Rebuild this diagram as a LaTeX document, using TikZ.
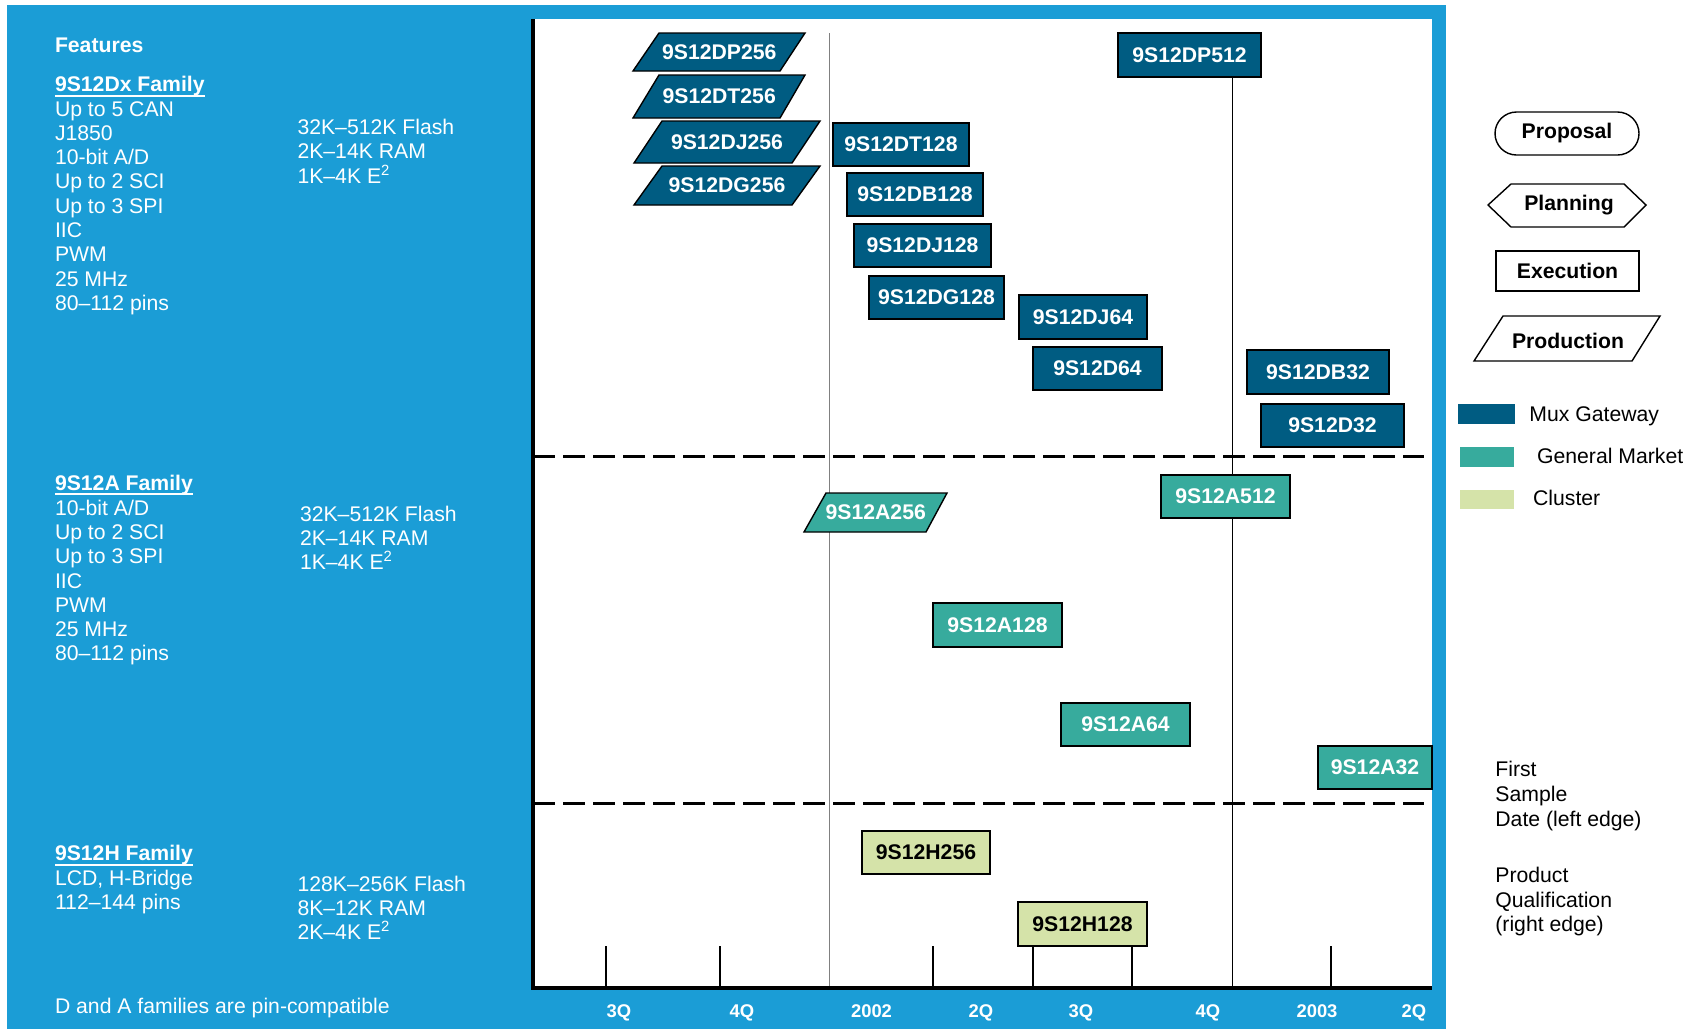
\documentclass[tikz,border=0pt]{standalone}
\usepackage{fontspec}
\setmainfont{Liberation Sans}
\definecolor{bgblue}{RGB}{27,157,214}
\definecolor{mux}{RGB}{0,92,130}
\definecolor{gm}{RGB}{55,171,157}
\definecolor{cl}{RGB}{213,227,169}
\newcommand\txfont{\fontsize{10.6}{12}\selectfont}
\newcommand\bxfont{\fontsize{10.6}{12}\selectfont\bfseries}
% rectangle box: name, x1, y1, x2, y2, style, text
\newcommand\rbox[7]{\node[#6, minimum width={(#4-#2)*0.5pt}, minimum height={(#5-#3)*0.5pt}] (#1) at ({(#2+#4)/2},{(#3+#5)/2}) {#7};}
% parallelogram box: name, TLx, TRx, BLx, BRx, ytop, ybot, fill colour, text
\newcommand\pbox[9]{\filldraw[pshape, fill=#8] (#2,#6) -- (#3,#6) -- (#5,#7) -- (#4,#7) -- cycle;
  \node[ptext] (#1) at ({(#2+#3+#4+#5)/4},{(#6+#7)/2}) {#9};}
\begin{document}
\begin{tikzpicture}[x=0.5pt,y=-0.5pt,
  txt/.style={anchor=base west, inner sep=0, outer sep=0, text=white, font=\txfont},
  btxt/.style={txt, font=\bxfont},
  box/.style={draw=black, line width=0.7pt, inner sep=0, outer sep=0, font=\bxfont, text=white},
  muxbox/.style={box, fill=mux},
  gmbox/.style={box, fill=gm},
  clbox/.style={box, fill=cl, text=black},
  pshape/.style={draw=black, line width=0.7pt},
  ptext/.style={inner sep=0, font=\bxfont, text=white},
  sep/.style={line width=1.5pt, dash pattern=on 11pt off 4pt},
  axlab/.style={anchor=base, inner sep=0, font=\fontsize{9.2}{10}\selectfont\bfseries, text=white},
  legbox/.style={draw=black, line width=0.7pt, fill=white, inner sep=0, font=\bxfont, text=black},
  legtext/.style={inner sep=0, font=\bxfont, text=black},
  legtxt/.style={anchor=base west, inner sep=0, font=\txfont, text=black},
  swatch/.style={inner sep=0, draw=none}
]
\useasboundingbox (0,0) rectangle (1696,1029);
\fill[white] (0,0) rectangle (1696,1029);
\fill[bgblue] (7,5) rectangle (1446,1029);
\fill[white] (533,19) rectangle (1432,988);

% reference lines
\coordinate (g1) at (829,33);
\coordinate (g2) at (829,988);
\draw[gray, line width=0.5pt] (g1) -- (g2);
\coordinate (s1a) at (533,456); \coordinate (s1b) at (1424,456);
\coordinate (s2a) at (533,803); \coordinate (s2b) at (1424,803);
\draw[sep] (s1a) -- (s1b);
\draw[sep] (s2a) -- (s2b);

% Dx family
\pbox{dp256}{659}{805}{633}{780}{33}{71}{mux}{9S12DP256}
\pbox{dt256}{659}{805}{633}{780}{75}{118}{mux}{9S12DT256}
\pbox{dj256}{662}{820}{634}{792}{121}{163}{mux}{9S12DJ256}
\pbox{dg256}{662}{820}{634}{792}{166}{205}{mux}{9S12DG256}
\rbox{dp512}{1118}{33}{1261}{77}{muxbox}{9S12DP512}
\coordinate (q4) at (1232,988);
\draw[black, line width=0.45pt] (dp512.south -| q4) -- (q4);
\rbox{dt128}{833}{123}{969}{166}{muxbox}{9S12DT128}
\rbox{db128}{847}{173}{983}{216}{muxbox}{9S12DB128}
\rbox{dj128}{854}{224}{991}{267}{muxbox}{9S12DJ128}
\rbox{dg128}{869}{276}{1004}{319}{muxbox}{9S12DG128}
\rbox{dj64}{1019}{295}{1147}{339}{muxbox}{9S12DJ64}
\rbox{d64}{1033}{347}{1162}{390}{muxbox}{9S12D64}
\rbox{db32}{1247}{350}{1389}{394}{muxbox}{9S12DB32}
\rbox{d32}{1261}{404}{1404}{447}{muxbox}{9S12D32}

% A family
\pbox{a256}{826}{947}{804}{926}{493}{532}{gm}{9S12A256}
\rbox{a512}{1161}{475}{1290}{518}{gmbox}{9S12A512}
\rbox{a128}{933}{603}{1062}{647}{gmbox}{9S12A128}
\rbox{a64}{1061}{703}{1190}{746}{gmbox}{9S12A64}
\rbox{a32}{1318}{746}{1432}{789}{gmbox}{9S12A32}

% H family
\rbox{h256}{862}{831}{990}{874}{clbox}{9S12H256}
\rbox{h128}{1018}{902}{1147}{946}{clbox}{9S12H128}

% ticks and axes
\foreach \x in {606,720,933,1033,1132,1331}
  \draw[line width=1pt] (\x,946) -- (\x,988);
\draw[line width=2pt] (533,19) -- (533,988) -- (1432,988);
\foreach \x/\t [count=\i] in {619/3Q, 742/4Q, 871.5/2002, 981/2Q, 1081/3Q, 1208/4Q, 1317/2003, 1414/2Q}
  \node[axlab] (ax\i) at (\x,1017.7) {\t};

% left texts
\node[btxt] (feat) at (55,52.3) {Features};
\node[btxt] (dfam) at (55,91.7) {9S12Dx Family};
\draw[white, line width=0.8pt] ([yshift=-2pt]dfam.base west) -- ([yshift=-2pt]dfam.base east);
\foreach \t [count=\i] in {{Up to 5 CAN}, {J1850}, {10-bit A/D}, {Up to 2 SCI}, {Up to 3 SPI}, {IIC}, {PWM}, {25 MHz}, {80–112 pins}}
  \node[txt] (dl\i) at (55,{116+24.33*(\i-1)}) {\t};
\foreach \t [count=\i] in {{32K–512K Flash}, {2K–14K RAM}, {1K–4K E\textsuperscript{2}}}
  \node[txt] (dm\i) at (297.5,{134.3+24.4*(\i-1)}) {\t};

\node[btxt] (afam) at (55,490) {9S12A Family};
\draw[white, line width=0.8pt] ([yshift=-2pt]afam.base west) -- ([yshift=-2pt]afam.base east);
\foreach \t [count=\i] in {{10-bit A/D}, {Up to 2 SCI}, {Up to 3 SPI}, {IIC}, {PWM}, {25 MHz}, {80–112 pins}}
  \node[txt] (al\i) at (55,{515+24.33*(\i-1)}) {\t};
\foreach \t [count=\i] in {{32K–512K Flash}, {2K–14K RAM}, {1K–4K E\textsuperscript{2}}}
  \node[txt] (am\i) at (300,{521+24.3*(\i-1)}) {\t};

\node[btxt] (hfam) at (55,860.7) {9S12H Family};
\draw[white, line width=0.8pt] ([yshift=-2pt]hfam.base west) -- ([yshift=-2pt]hfam.base east);
\foreach \t [count=\i] in {{LCD, H-Bridge}, {112–144 pins}}
  \node[txt] (hl\i) at (55,{885+24.33*(\i-1)}) {\t};
\foreach \t [count=\i] in {{128K–256K Flash}, {8K–12K RAM}, {2K–4K E\textsuperscript{2}}}
  \node[txt] (hm\i) at (297.5,{891+24.3*(\i-1)}) {\t};

\node[txt] (foot) at (55,1013.3) {D and A families are pin-compatible};

% legend
\node[legbox, rounded corners=10.75pt, minimum width=72pt, minimum height=21.5pt] (prop) at (1567,133.5) {Proposal};
\filldraw[pshape, fill=white] (1488,205) -- (1511,184) -- (1624,184) -- (1646,205) -- (1624,227) -- (1511,227) -- cycle;
\node[legtext] (plan) at (1569,205) {Planning};
\node[legbox, minimum width=71.5pt, minimum height=20pt] (exec) at (1567.5,271) {Execution};
\filldraw[pshape, fill=white] (1503,316) -- (1660,316) -- (1632,361) -- (1474,361) -- cycle;
\node[legtext] (prod) at (1568,341) {Production};

\node[swatch, fill=mux, minimum width=28.5pt, minimum height=10pt] (swmux) at (1486.5,414) {};
\node[swatch, fill=gm, minimum width=27pt, minimum height=10pt] (swgm) at (1487,456.7) {};
\node[swatch, fill=cl, minimum width=27pt, minimum height=9.7pt] (swcl) at (1487,499.7) {};
\node[legtxt] (lmux) at (1529,421) {Mux Gateway};
\node[legtxt] (lgm) at (1536.7,463.5) {General Market};
\node[legtxt] (lcl) at (1532.7,505.5) {Cluster};

\foreach \t [count=\i] in {{First}, {Sample}, {Date (left edge)}}
  \node[legtxt] (fs\i) at (1495,{776.7+24.8*(\i-1)}) {\t};
\foreach \t [count=\i] in {{Product}, {Qualification}, {(right edge)}}
  \node[legtxt] (pq\i) at (1495,{882.7+24.5*(\i-1)}) {\t};
\end{tikzpicture}
\end{document}
